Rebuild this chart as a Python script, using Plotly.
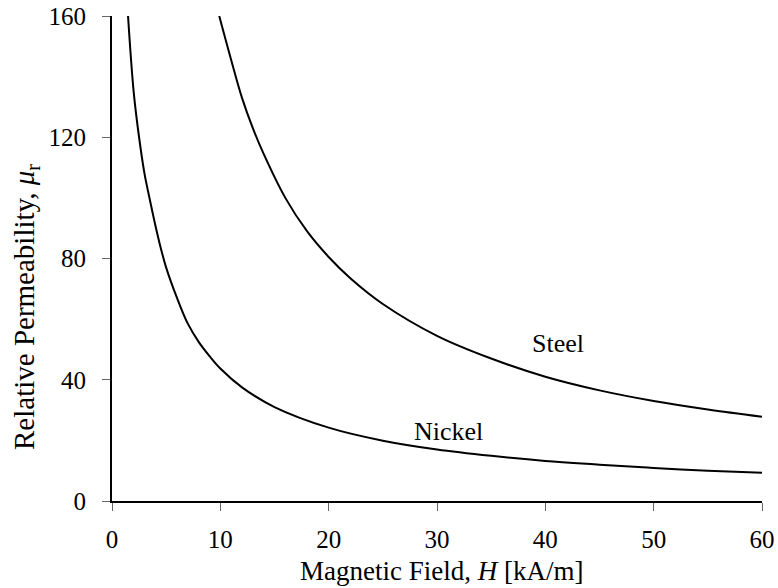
import plotly.graph_objects as go

# Data
steel_H = [9.9, 11, 12, 13, 14, 16, 18, 20, 22, 25, 30, 35, 40, 45, 50, 55, 60]
steel_mu = [160, 145.5, 133, 123, 114.5, 100, 89, 80.5, 73.5, 65, 54.5, 47, 41, 36.5, 33, 30.2, 27.8]

nickel_H = [1.48, 2, 2.5, 3, 3.5, 4, 4.5, 5, 6, 7, 8, 9, 10, 12, 15, 20, 25, 30, 35, 40, 45, 50, 55, 60]
nickel_mu = [160, 135, 120, 108, 99.3, 91, 83.5, 77, 67, 58.5, 52.5, 47.8, 43.7, 37.5, 31, 24.2, 19.9, 17, 14.9, 13.2, 12, 10.9, 10, 9.3]

x_ticks = [0, 10, 20, 30, 40, 50, 60]
y_ticks = [0, 40, 80, 120, 160]

labels = ["Steel", "Nickel"]
label_x = [41.2, 31.1]
label_y = [52.1, 22.8]

FONT = "Liberation Serif"
FS = 25

fig = go.Figure()
fig.add_trace(go.Scatter(x=nickel_H, y=nickel_mu, mode="lines",
                         line=dict(color="black", width=2, shape="spline", smoothing=1.0),
                         showlegend=False, hoverinfo="skip"))
fig.add_trace(go.Scatter(x=steel_H, y=steel_mu, mode="lines",
                         line=dict(color="black", width=2, shape="spline", smoothing=1.0),
                         showlegend=False, hoverinfo="skip"))

for t, xx, yy in zip(labels, label_x, label_y):
    fig.add_annotation(x=xx, y=yy, xref="x", yref="y", text=t, showarrow=False,
                       font=dict(family=FONT, size=26, color="black"))

fig.add_annotation(x=(441 - 112) / 650, y=-(587 - 501) / 485, xref="paper", yref="paper",
                   text="Magnetic Field, <i>H</i> [kA/m]", showarrow=False,
                   xanchor="center", yanchor="bottom", borderpad=0,
                   font=dict(family=FONT, size=27, color="black"))
fig.add_annotation(x=(26 - 112) / 650, y=(501 - 307) / 485, xref="paper", yref="paper",
                   text="Relative Permeability, <i>μ</i><sub>r</sub>", showarrow=False,
                   textangle=-90, xanchor="center", yanchor="middle",
                   font=dict(family=FONT, size=29, color="black"))

fig.update_layout(
    width=778, height=588,
    margin=dict(l=112, r=16, t=16, b=87, autoexpand=False),
    paper_bgcolor="white", plot_bgcolor="white",
    font=dict(family=FONT, size=FS, color="black"),
    xaxis=dict(range=[0, 60], tickvals=x_ticks, showline=True, linecolor="black", linewidth=2,
               ticks="outside", ticklen=8, tickcolor="#666", tickwidth=1,
               showgrid=False, zeroline=False, ticklabelstandoff=7, automargin=False,
               tickfont=dict(family=FONT, size=FS, color="black")),
    yaxis=dict(range=[0, 160], tickvals=y_ticks, showline=True, linecolor="black", linewidth=2,
               ticks="outside", ticklen=8, tickcolor="#666", tickwidth=1,
               showgrid=False, zeroline=False, ticklabelstandoff=11, automargin=False,
               tickfont=dict(family=FONT, size=FS, color="black")),
)

fig.write_html("out.html")
